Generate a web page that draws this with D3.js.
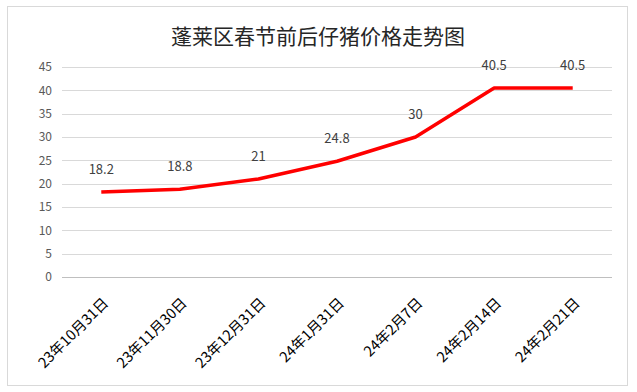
<!DOCTYPE html>
<html>
<head>
<meta charset="utf-8">
<script src="https://cdn.jsdelivr.net/npm/d3@7"></script>
<style>
  body { margin: 0; background: #fff; }
  text { font-family: "Noto Sans CJK SC", "Noto Sans", sans-serif; }
</style>
</head>
<body>
<div id="chart"></div>
<script>
const title = '蓬莱区春节前后仔猪价格走势图';
const dates = ['23年10月31日', '23年11月30日', '23年12月31日', '24年1月31日', '24年2月7日', '24年2月14日', '24年2月21日'];
const prices = [18.2, 18.8, 21, 24.8, 30, 40.5, 40.5];
const yTicks = [0, 5, 10, 15, 20, 25, 30, 35, 40, 45];

const W = 637, H = 392;
const margin = { top: 67, right: 25, bottom: 115, left: 62 };

const svg = d3.select('#chart')
    .append('svg')
    .attr('width', W)
    .attr('height', H);

// outer frame
svg.append('rect')
    .attr('x', 7.5).attr('y', 6.5)
    .attr('width', 620).attr('height', 379)
    .attr('fill', '#fff')
    .attr('stroke', '#d9d9d9');

svg.append('text')
    .attr('x', 318)
    .attr('y', 44)
    .attr('text-anchor', 'middle')
    .attr('font-size', 21)
    .attr('font-weight', 'normal')
    .attr('fill', '#262626')
    .text(title);

const xScale = d3.scaleBand()
    .domain(dates)
    .range([margin.left, W - margin.right]);

const yScale = d3.scaleLinear()
    .domain([0, 45])
    .range([H - margin.bottom, margin.top]);

// gridlines
svg.append('g')
    .selectAll('line')
    .data(yTicks)
    .join('line')
    .attr('x1', margin.left)
    .attr('x2', W - margin.right)
    .attr('y1', d => Math.round(yScale(d)) + 0.5)
    .attr('y2', d => Math.round(yScale(d)) + 0.5)
    .attr('stroke', d => d === 0 ? '#bfbfbf' : '#d9d9d9')
    .attr('stroke-width', 1);

// y labels
svg.append('g')
    .selectAll('text')
    .data(yTicks)
    .join('text')
    .attr('x', 52)
    .attr('y', d => yScale(d))
    .attr('dy', '0.35em')
    .attr('text-anchor', 'end')
    .attr('font-size', 12)
    .attr('fill', '#595959')
    .text(d => d);

// x labels
svg.append('g')
    .selectAll('text')
    .data(dates)
    .join('text')
    .attr('text-anchor', 'end')
    .attr('font-size', 14.5)
    .attr('fill', '#000')
    .attr('transform', d => `translate(${xScale(d) + xScale.bandwidth() / 2 + 8},${H - margin.bottom + 27}) rotate(-45)`)
    .text(d => d);

const line = d3.line()
    .x((d, i) => xScale(dates[i]) + xScale.bandwidth() / 2)
    .y(d => yScale(d));

svg.append('path')
    .datum(prices)
    .attr('d', line)
    .attr('fill', 'none')
    .attr('stroke', '#ff0000')
    .attr('stroke-width', 3.5)
    .attr('stroke-linejoin', 'round');

// data labels
svg.append('g')
    .selectAll('text')
    .data(prices)
    .join('text')
    .attr('x', (d, i) => xScale(dates[i]) + xScale.bandwidth() / 2)
    .attr('y', d => yScale(d) - 23)
    .attr('dy', '0.35em')
    .attr('text-anchor', 'middle')
    .attr('font-size', 13)
    .attr('fill', '#404040')
    .text(d => d);
</script>
</body>
</html>
